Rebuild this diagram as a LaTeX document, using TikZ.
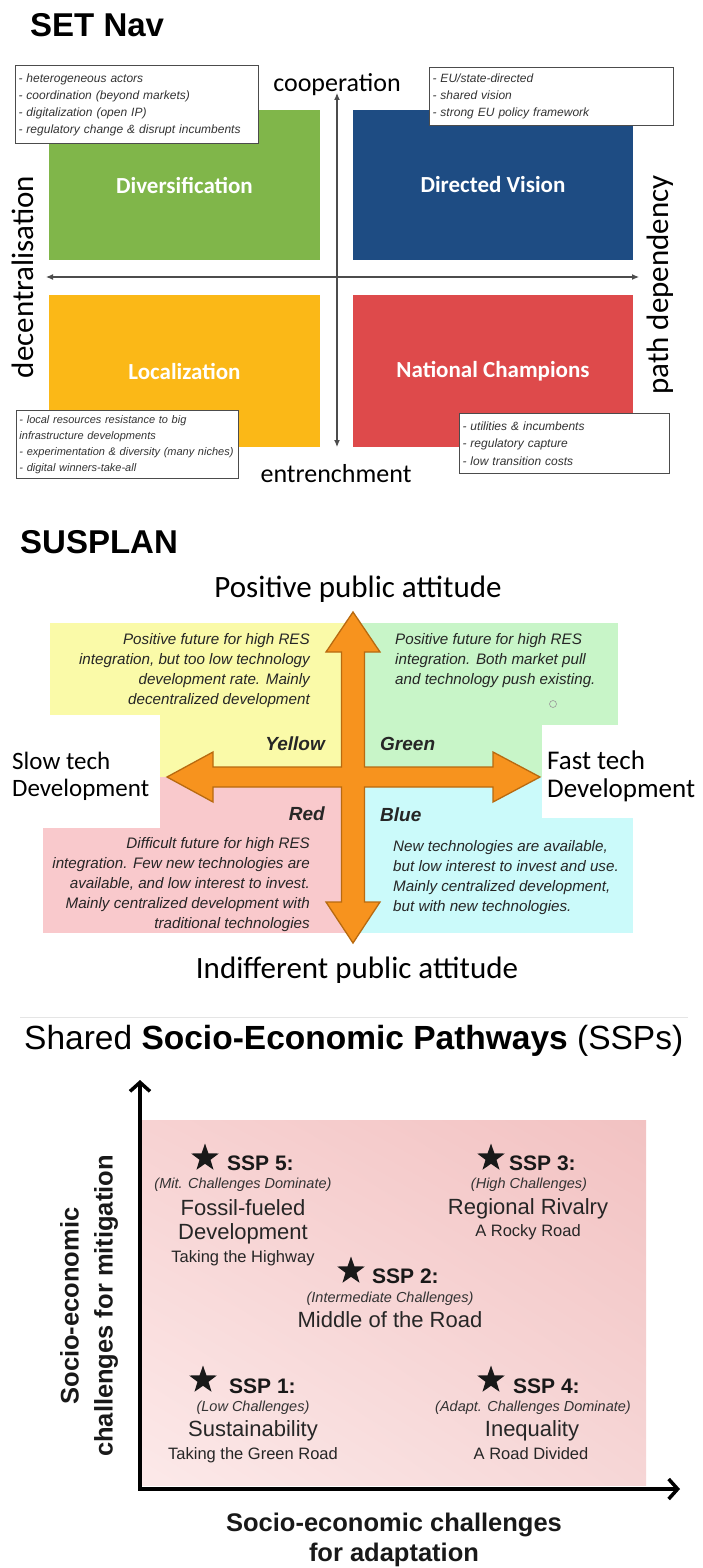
\documentclass[tikz,border=0pt]{standalone}
\usepackage{fontspec}
\setmainfont{Liberation Sans}
\newfontfamily\carl{Carlito}
\usetikzlibrary{arrows.meta,shapes.geometric,shadings}
\definecolor{divgreen}{HTML}{80B64A}
\definecolor{dirblue}{HTML}{1E4C83}
\definecolor{locyellow}{HTML}{FBB817}
\definecolor{natred}{HTML}{DE4A4B}
\definecolor{qyellow}{HTML}{FAFAA8}
\definecolor{qgreen}{HTML}{C8F5C8}
\definecolor{qred}{HTML}{F9C9CC}
\definecolor{qblue}{HTML}{CBFAFA}
\definecolor{arrorange}{HTML}{F7931E}
\definecolor{arredge}{HTML}{B86A10}
\definecolor{pinkA}{HTML}{F2C2C2}
\definecolor{pinkB}{HTML}{F7D2D2}
\definecolor{pinkC}{HTML}{FCE9E9}
\definecolor{pinkD}{HTML}{F6D6D6}
\tikzset{
  titletext/.style={font=\bfseries\fontsize{33}{40}\selectfont, inner sep=0, anchor=base west},
  setquad/.style={inner sep=0, text=white, font=\carl\bfseries\fontsize{23}{28}\selectfont},
  setaxlbl/.style={font=\carl\fontsize{26}{31}\selectfont, inner sep=0, anchor=base},
  setvlbl/.style={font=\carl\fontsize{31}{36}\selectfont, inner sep=0, anchor=base, rotate=90},
  setaxis/.style={draw=black!70, line width=1.1pt, {Latex[length=7pt,width=6pt]}-{Latex[length=7pt,width=6pt]}},
  notebox/.style={draw=black!70, line width=1pt, fill=white, anchor=north west, align=left, inner xsep=3pt, inner ysep=0, text=black!80},
  susaxlbl/.style={font=\carl\fontsize{31}{37}\selectfont, inner sep=0, anchor=base},
  qtext/.style={font=\itshape\fontsize{15.2}{20}\selectfont, inner sep=0, text=black!85},
  qname/.style={font=\bfseries\itshape\fontsize{19}{23}\selectfont, inner sep=0, text=black!85},
  crossarrow/.style={fill=arrorange, draw=arredge, line width=1.3pt, line join=miter},
  sspstar/.style={star, star points=5, star point ratio=2.5, fill=black!90, inner sep=0, minimum size=29pt},
  ssphead/.style={font=\bfseries\fontsize{21}{25}\selectfont, inner sep=0, anchor=base west, text=black!90},
  sspmode/.style={font=\itshape\fontsize{14.5}{17}\selectfont, inner sep=0, anchor=base, text=black!80},
  sspname/.style={font=\fontsize{22}{26}\selectfont, inner sep=0, anchor=base, text=black!85},
  sspsub/.style={font=\fontsize{16.5}{20}\selectfont, inner sep=0, anchor=base, text=black!85},
  sspaxis/.style={line width=3.5pt, {Straight Barb[length=9pt,width=20pt]}-{Straight Barb[length=9pt,width=20pt]}},
  sspaxlbl/.style={font=\bfseries\fontsize{25.5}{34}\selectfont, inner sep=0, text=black!90, align=center}
}
\begin{document}
\begin{tikzpicture}[x=1pt,y=-1pt]
\useasboundingbox[fill=white] (0,0) rectangle (703,1568);

% ================= SET Nav =================
\node[titletext] (setnav) at (30,37) {SET Nav};

\node[setquad, fill=divgreen, minimum width=271pt, minimum height=150pt] (div) at (184.5,185) {Diversification};
\node[setquad, fill=dirblue, minimum width=280pt, minimum height=150pt] (dir) at (493,185) {Directed Vision};
\node[setquad, fill=locyellow, minimum width=271pt, minimum height=152pt] (loc) at (184.5,371) {Localization};
\node[setquad, fill=natred, minimum width=280pt, minimum height=152pt] (nat) at (493,371) {National Champions};

\coordinate (hl) at (46,277);
\coordinate (hr) at (639,277);
\coordinate (vt) at (337,93);
\coordinate (vb) at (337,447);
\draw[setaxis] (hl) -- (hr);
\draw[setaxis] (vt) -- (vb);

\node[setaxlbl] (coop) at (337,92) {cooperation};
\node[setaxlbl] (entr) at (336,482) {entrenchment};
\node[setvlbl] (decen) at (33,277) {decentralisation};
\node[setvlbl] (pathd) at (668,285) {path dependency};

\node[notebox, text width=237pt, minimum height=78pt, font=\itshape\fontsize{12}{17}\selectfont] (noteTL) at (15,65)
  {- heterogeneous actors\\- coordination (beyond markets)\\- digitalization (open IP)\\- regulatory change \& disrupt incumbents};
\node[notebox, text width=238pt, minimum height=58pt, font=\itshape\fontsize{12}{17}\selectfont] (noteTR) at (429,67)
  {- EU/state-directed\\- shared vision\\- strong EU policy framework};
\node[notebox, text width=216pt, minimum height=68pt, font=\itshape\fontsize{11}{16}\selectfont] (noteBL) at (16,410)
  {- local resources resistance to big\\infrastructure developments\\- experimentation \& diversity (many niches)\\- digital winners-take-all};
\node[notebox, text width=204pt, minimum height=60pt, font=\itshape\fontsize{12}{17.5}\selectfont] (noteBR) at (459,413)
  {- utilities \& incumbents\\- regulatory capture\\- low transition costs};

% ================= SUSPLAN =================
\node[titletext] (susplan) at (20,553) {SUSPLAN};

\fill[qyellow] (50,623) rectangle (353,777);
\fill[qgreen] (353,623) rectangle (618,777);
\fill[qred] (43,777) rectangle (353,933);
\fill[qblue] (353,777) rectangle (633,933);
\fill[white] (0,715) rectangle (160,828);
\fill[white] (542,725) rectangle (703,818);

\draw[crossarrow] (353,612) -- (380,652) -- (364.5,652) -- (364.5,767) -- (493,767) -- (493,752) -- (540,777)
  -- (493,802) -- (493,787) -- (364.5,787) -- (364.5,902) -- (380,902) -- (353,943) -- (326,902)
  -- (341.5,902) -- (341.5,787) -- (213,787) -- (213,802) -- (167,777) -- (213,752) -- (213,767)
  -- (341.5,767) -- (341.5,652) -- (326,652) -- cycle;

\draw[black!40, line width=0.6pt] (553,704) circle (3.5);

\node[susaxlbl] (ppa) at (358,597) {Positive public attitude};
\node[susaxlbl] (ipa) at (357,978) {Indifferent public attitude};
\node[font=\carl\fontsize{25}{30}\selectfont, inner sep=0, anchor=base west] (slow1) at (12,769) {Slow tech};
\node[font=\carl\fontsize{25}{30}\selectfont, inner sep=0, anchor=base west] (slow2) at (12,796) {Development};
\node[font=\carl\fontsize{27}{30}\selectfont, inner sep=0, anchor=base west] (fast1) at (547,769) {Fast tech};
\node[font=\carl\fontsize{27}{30}\selectfont, inner sep=0, anchor=base west] (fast2) at (547,797) {Development};

\node[qtext, align=right, anchor=north east] (ytext) at (310,633)
  {Positive future for high RES\\integration, but too low technology\\development rate. Mainly\\decentralized development};
\node[qtext, align=left, anchor=north west] (gtext) at (395,633)
  {Positive future for high RES\\integration. Both market pull\\and technology push existing.};
\node[qtext, align=right, anchor=north east] (rtext) at (310,837)
  {Difficult future for high RES\\integration. Few new technologies are\\available, and low interest to invest.\\Mainly centralized development with\\traditional technologies};
\node[qtext, align=left, anchor=north west] (btext) at (393,840)
  {New technologies are available,\\but low interest to invest and use.\\Mainly centralized development,\\but with new technologies.};

\node[qname, anchor=base east] (yname) at (325,750) {Yellow};
\node[qname, anchor=base west] (gname) at (380,750) {Green};
\node[qname, anchor=base east] (rname) at (325,820) {Red};
\node[qname, anchor=base west] (bname) at (380,821) {Blue};

% ================= SSPs =================
\draw[black!10, line width=0.6pt] (20,1017) -- (688,1017);
\node[font=\fontsize{33.5}{40}\selectfont, inner sep=0, anchor=base west] (ssptitle) at (24,1049)
  {Shared \textbf{Socio-Economic Pathways} (SSPs)};

\shade[upper left=pinkB, upper right=pinkA, lower left=pinkC, lower right=pinkD] (142,1120) rectangle (646,1485);

\coordinate (origin) at (140,1489);
\coordinate (ytip) at (140,1080);
\coordinate (xtip) at (680,1489);
\draw[sspaxis] (ytip) -- (origin) -- (xtip);

\node[sspaxlbl, rotate=90] (ylab) at (89,1306) {Socio-economic\\challenges for mitigation};
\node[sspaxlbl, anchor=base] (xlab1) at (394,1531) {Socio-economic challenges};
\node[sspaxlbl, anchor=base] (xlab2) at (394,1561) {for adaptation};

% SSP 5
\node[sspstar] (st5) at (205,1158) {};
\node[ssphead] (h5) at (227,1170) {SSP 5:};
\node[sspmode] (m5) at (243,1188) {(Mit. Challenges Dominate)};
\node[sspname] (n5a) at (243,1215) {Fossil-fueled};
\node[sspname] (n5b) at (243,1239) {Development};
\node[sspsub] (t5) at (243,1262) {Taking the Highway};
% SSP 3
\node[sspstar] (st3) at (491,1158) {};
\node[ssphead] (h3) at (509,1170) {SSP 3:};
\node[sspmode] (m3) at (529,1188) {(High Challenges)};
\node[sspname] (n3) at (528,1214) {Regional Rivalry};
\node[sspsub] (t3) at (528,1236) {A Rocky Road};
% SSP 2
\node[sspstar] (st2) at (351,1271) {};
\node[ssphead] (h2) at (372,1283) {SSP 2:};
\node[sspmode] (m2) at (390,1302) {(Intermediate Challenges)};
\node[sspname] (n2) at (390,1327) {Middle of the Road};
% SSP 1
\node[sspstar] (st1) at (203,1380) {};
\node[ssphead] (h1) at (229,1393) {SSP 1:};
\node[sspmode] (m1) at (253,1411) {(Low Challenges)};
\node[sspname] (n1) at (253,1436) {Sustainability};
\node[sspsub] (t1) at (253,1459) {Taking the Green Road};
% SSP 4
\node[sspstar] (st4) at (491,1380) {};
\node[ssphead] (h4) at (513,1393) {SSP 4:};
\node[sspmode] (m4) at (533,1411) {(Adapt. Challenges Dominate)};
\node[sspname] (n4) at (532,1436) {Inequality};
\node[sspsub] (t4) at (531,1459) {A Road Divided};
\end{tikzpicture}
\end{document}
